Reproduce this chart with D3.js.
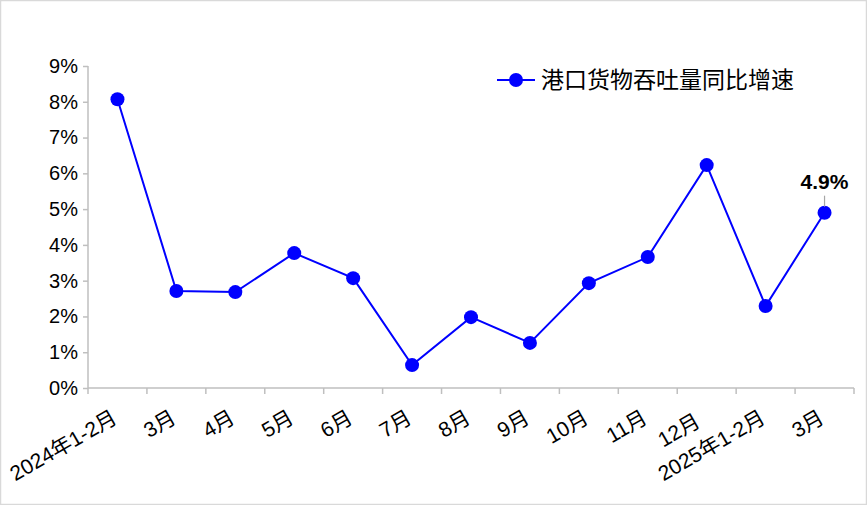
<!DOCTYPE html>
<html><head><meta charset="utf-8">
<script src="https://cdn.jsdelivr.net/npm/d3@7"></script>
<style>body{margin:0;background:#fff}svg{display:block}</style>
</head><body><svg id="c" width="867" height="505"></svg>
<script>
const categories = ["2024年1-2月","3月","4月","5月","6月","7月","8月","9月","10月","11月","12月","2025年1-2月","3月"];
const values = [8.07,2.71,2.68,3.77,3.07,0.64,1.98,1.26,2.93,3.66,6.23,2.29,4.9];
const yTicks = [0,1,2,3,4,5,6,7,8,9];
const seriesName = "港口货物吞吐量同比增速";
const annotationText = "4.9%";

const svg = d3.select("#c");
const W = 867, H = 505;
const font = "'Liberation Sans', Arial, 'Noto Sans CJK SC', sans-serif";
svg.append("rect").attr("x",0.5).attr("y",0.5).attr("width",W-1).attr("height",H-1)
  .attr("fill","#fff").attr("stroke","#d9d9d9").attr("stroke-width",1.5);

const x = d3.scaleBand().domain(categories.map((d,i)=>i)).range([88,854]);
const y = d3.scaleLinear().domain([0,9]).range([388,66]);

const yAxis = svg.append("g").attr("transform","translate(88,0)")
  .call(d3.axisLeft(y).tickValues(yTicks).tickFormat(d=>d+"%").tickSize(5).tickPadding(5));
yAxis.select(".domain").attr("stroke","#bfbfbf").attr("stroke-width",1.5).attr("d","M0,66V388");
yAxis.selectAll(".tick line").attr("stroke","#bfbfbf").attr("stroke-width",1.5);
yAxis.selectAll(".tick text").attr("font-family",font).attr("font-size",20).attr("fill","#000");

const xAxis = svg.append("g").attr("transform","translate(0,388)")
  .call(d3.axisBottom(x).tickFormat(i=>categories[i]).tickSize(0));
xAxis.select(".domain").attr("stroke","#bfbfbf").attr("stroke-width",1.5).attr("d","M88,0H854");
xAxis.selectAll(".tick line").remove();
const bounds = d3.range(categories.length+1).map(i=>88+i*x.step());
xAxis.selectAll(".bt").data(bounds).enter().append("line")
  .attr("x1",d=>d).attr("x2",d=>d).attr("y1",0).attr("y2",6)
  .attr("stroke","#bfbfbf").attr("stroke-width",1.5);
xAxis.selectAll(".tick text")
  .attr("font-family",font).attr("font-size",21).attr("fill","#000")
  .attr("text-anchor","end").attr("dy",0).attr("y",0).attr("x",(d)=> d===10 ? -7 : 0)
  .attr("transform","translate(1,34) rotate(-30)");

const cx = i => x(i)+x.bandwidth()/2;
const line = d3.line().x((d,i)=>cx(i)).y(d=>y(d));
svg.append("path").datum(values).attr("d",line).attr("fill","none")
  .attr("stroke","#0000ff").attr("stroke-width",2);
svg.selectAll(".pt").data(values).enter().append("circle")
  .attr("cx",(d,i)=>cx(i)).attr("cy",d=>y(d)).attr("r",7).attr("fill","#0000ff");

const li = values.length-1;
svg.append("line").attr("x1",cx(li)).attr("x2",cx(li)).attr("y1",y(values[li])-17).attr("y2",y(values[li])-6)
  .attr("stroke","#a6a6a6").attr("stroke-width",1.2);
svg.append("text").attr("x",cx(li)).attr("y",y(values[li])-24).attr("text-anchor","middle")
  .attr("font-family",font).attr("font-size",21).attr("font-weight","bold").text(annotationText);

const lg = svg.append("g");
lg.append("line").attr("x1",497).attr("x2",535).attr("y1",80).attr("y2",80).attr("stroke","#0000ff").attr("stroke-width",2);
lg.append("circle").attr("cx",516).attr("cy",80).attr("r",7).attr("fill","#0000ff");
lg.append("text").attr("x",541).attr("y",88).attr("font-family","'Noto Sans CJK SC', sans-serif")
  .attr("font-size",23).attr("fill","#000").text(seriesName);
</script></body></html>
